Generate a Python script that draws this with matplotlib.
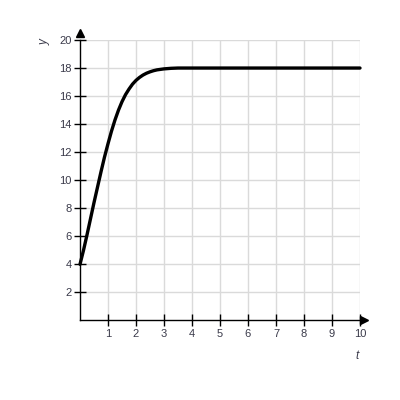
import matplotlib
matplotlib.use("Agg")
import matplotlib.pyplot as plt

t_vals = [0, 0.125, 0.25, 0.375, 0.5, 0.625, 0.75, 0.875, 1.0, 1.125, 1.25, 1.375, 1.5,
          1.625, 1.75, 1.875, 2.0, 2.125, 2.25, 2.375, 2.5, 2.625, 2.75, 3.0, 3.25, 3.5, 4,
          5, 6, 7, 8, 9, 10]
y_vals = [4.0, 5.0, 6.1, 7.25, 8.4, 9.5, 10.6, 11.65, 12.6, 13.5, 14.3, 15.0, 15.6,
          16.1, 16.5, 16.85, 17.12, 17.33, 17.5, 17.63, 17.73, 17.81, 17.87, 17.94, 17.98, 18.0, 18,
          18, 18, 18, 18, 18, 18]

x_ticks = [1, 2, 3, 4, 5, 6, 7, 8, 9, 10]
y_ticks = [2, 4, 6, 8, 10, 12, 14, 16, 18, 20]

plt.rcParams['font.family'] = ['Liberation Sans', 'DejaVu Sans']

fig = plt.figure(figsize=(4, 4), dpi=100)
ax = fig.add_axes([0.2, 0.199, 0.7, 0.701])
ax.set_xlim(0, 10)
ax.set_ylim(0, 20)

ax.set_xticks(x_ticks)
ax.set_yticks(y_ticks)
ax.grid(True, color='#dadada', linewidth=1.0)
ax.set_axisbelow(True)

for s in ['top', 'right']:
    ax.spines[s].set_visible(False)
for s in ['left', 'bottom']:
    ax.spines[s].set_color('black')
    ax.spines[s].set_linewidth(1.0)

ax.tick_params(axis='both', direction='inout', length=8, width=1.0, color='black',
               labelsize=8, labelcolor='#3a3a4a', pad=2)

ax.plot(t_vals, y_vals, color='black', linewidth=2.4, solid_capstyle='round', clip_on=False, zorder=5)

# axis arrows
ax.plot([0], [1.025], marker='^', markersize=6, color='black', transform=ax.transAxes, clip_on=False)
ax.plot([1.015], [0], marker='>', markersize=6, color='black', transform=ax.transAxes, clip_on=False)

fig.text(45 / 400, 1 - 42 / 400, 'y', rotation=90, ha='center', va='center',
         fontsize=8.5, style='italic', color='#3a3a4a')
fig.text(357 / 400, 1 - 356 / 400, 't', ha='center', va='center',
         fontsize=8.5, style='italic', color='#3a3a4a')

fig.savefig('out.png', dpi=100, facecolor='white')
